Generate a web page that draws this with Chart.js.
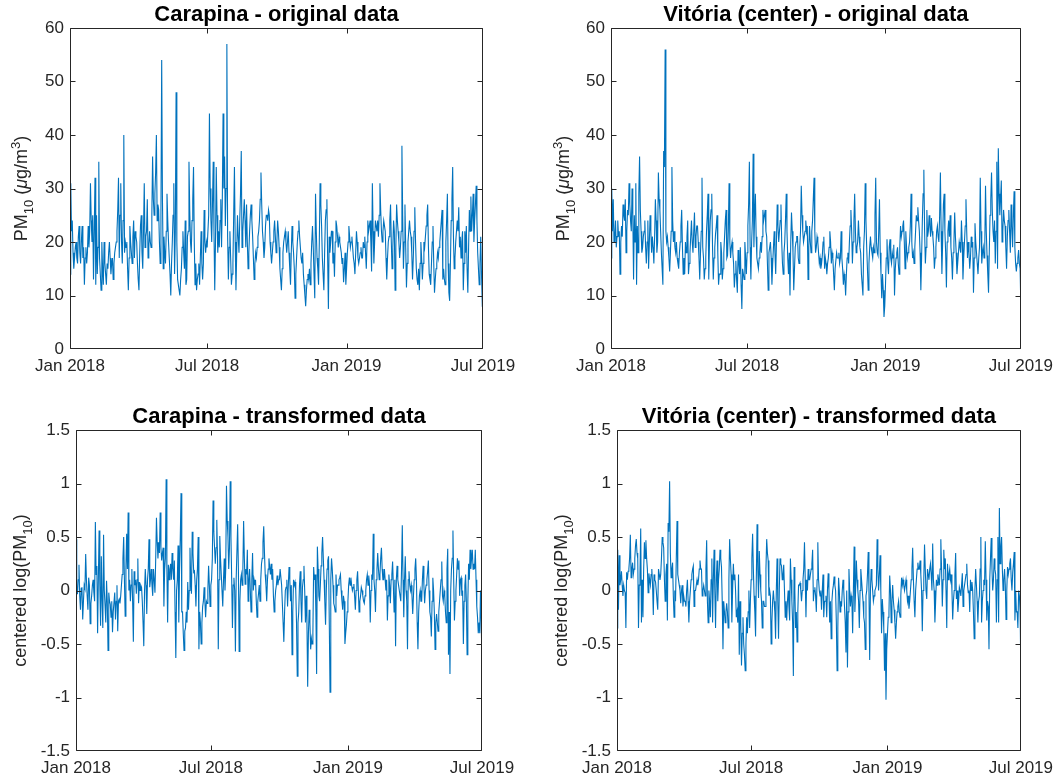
<!DOCTYPE html>
<html><head><meta charset="utf-8">
<script src="https://cdn.jsdelivr.net/npm/chart.js@4/dist/chart.umd.min.js"></script>
<style>
html,body{margin:0;padding:0;background:#fff;}
#wrap{position:relative;width:1060px;height:783px;overflow:hidden;}
canvas{position:absolute;left:0;top:0;}
</style></head><body>
<div id="wrap">
<canvas id="c1" width="1060" height="783"></canvas>
<canvas id="c2" width="1060" height="783"></canvas>
<canvas id="c3" width="1060" height="783"></canvas>
<canvas id="c4" width="1060" height="783"></canvas>
</div>
<script>
// ---- tick positions (days since Jan 1 2018) and labels ----
const tickDays = [0, 181, 365, 545];
const tickLabels = ['Jan 2018', 'Jul 2018', 'Jan 2019', 'Jul 2019'];

const titles = ['Carapina - original data', 'Vitória (center) - original data',
                'Carapina - transformed data', 'Vitória (center) - transformed data'];
const labelOriginal = [{t:'PM'},{t:'10',s:'sub'},{t:' ('},{t:'μ',i:1},{t:'g/m'},{t:'3',s:'sup'},{t:')'}];
const labelTransformed = [{t:'centered log(PM'},{t:'10',s:'sub'},{t:')'}];

// ---- daily series ----
const carapinaOriginal = [
14,31,22,24,18,15,17,19,20,17, 16,21,23,18,16,20,23,17,19,12,
17,19,16,18,23,19,22,31,24,20, 25,13,22,32,12,25,14,19,35,17,
14,11,20,15,12,20,16,14,12,16, 15,18,20,17,14,16,17,13,16,18,
19,20,22,26,32,17,25,31,20,16, 24,40,18,20,19,20,15,11,17,23,
20,18,16,21,24,17,22,21,20,16, 13,11,18,23,25,18,15,22,31,19,
21,22,28,17,19,22,20,19,25,36, 28,25,29,33,40,24,27,26,20,16,
25,54,28,15,21,18,16,22,29,24, 20,17,14,10,16,20,25,31,14,22,
48,20,13,12,11,10,13,15,19,22, 18,15,24,12,13,21,22,35,26,20,
18,24,28,34,20,12,16,11,13,14, 16,12,17,22,16,13,16,26,20,18,
20,19,19,25,44,30,24,20,27,35, 22,11,20,34,25,18,22,19,24,28,
19,28,44,30,36,23,30,57,21,13, 19,22,17,12,14,16,25,34,20,11,
18,25,21,18,24,29,37,19,22,25, 28,24,19,27,20,15,18,22,25,27,
24,21,17,13,16,18,17,19,21,22, 24,28,33,27,22,20,17,19,23,25,
25,24,26,25,20,18,16,18,20,22, 24,21,18,20,24,22,19,15,13,11,
15,18,20,21,22,20,18,20,22,18, 15,12,18,23,20,18,15,9.5,14,17,
20,22,24,21,19,17,16,18,14,12, 10,8,11,13,14,13,15,12,16,20,
23,19,14,9.5,29,22,17,15,12,20, 31,27,23,17,14,11,18,24,26,28,
17,7.5,21,18,20,22,22,16,18,13.5, 20,24,23,21,19,21,20,19,18,16,
17,12.5,15,18,12,15,18,20,23,21, 19,20,21,19,17,16,14,18,22,20,
17,16,17,18,19,17,17,20,19,21, 18,15,20,24,22,23,24,20,14.5,31,
22,16,20,24,23,22,24,21,25,31, 26,22,20,22,24,23,22,17,13,17,
20,21,24,27,20,15,19,24,22,11, 19,27,24,22,20,17,19,22,38,25,
15,20,27,19,11.5,16,20,22,24,22, 21,18,13,17,22,26.5,20,15,13,12,
15,11,16,20,17,13,16,20,19,21, 23,25,27,19,14,13,12,16,20,23,
16,10.5,13,15,16,18,17,19,20,22, 24,26,13,15,13,12,20,24,29,16,
10.5,9,16,24,28,34,21,15,17,20, 22,24,22,26.5,19,21,17,20,22,11,
16,22,18,23,15,10.5,19,26,22,28.5, 22,25,29,20,24,27,30.5,24,18,15,
12,16,21,14,8.5,9];

const vitoriaOriginal = [
17,30,22,28,20,21,24,19,21,24, 21,22,14,20,23,21,27,25,24,28,
18,22,26,25,31,27,24,22,30,25, 13,25,20,31,12,23,18,29,36,26,
22,18,19,21,22,24,19,16,20,24, 15,20,25,22,18,21,19,16,21,28,
24,18,20,33,28,26,22,18,15,12, 37,34,56,22,20,21,19,17,14.5,18,
22,34,24,20,22,19,18,20,17,16, 15,18,20,23,26,19,14,17,14,20,
18,21,24,14,16,18,21,24,20,18, 22,25.5,19,21,23,23,20,17,13,18,
22,32,19,17,13,15,17,22,25,29, 13,20,24,26,29,19,13,17,19,21.5,
23,25,18,12,14,14,20,18,13,15, 18,21,24,26,17,17.5,22,31,20,17,
19,20,18,16,11.5,14,16.5,13,10.5,18.5, 16,14,19,12,7.5,15,14,13,20,17,
14,18,23,27,35,19,13,20,24,36.5, 19,25,29,21,17,16,15,17,18,20,
18,21,26,24,25,26,22,21,16,11, 18,19,20,17,12,16,19,22,18,14,
20,27,23,20,22,24,27,20,16,14, 18,20,24,29,22,17,14,18,10,20,
25.5,22,18,11,15,19,20,21,21,17, 16,19,22,30.5,25,22,20,21,22,24,
22,23,13,19,23,20,18,22,24,28, 32,22,18,19,21,20,18,16,17,15,
16,17.5,20,21,15,17,16,14,16,17, 19,22,20,16,18,17,14,11,15,15,
18,17,17,18,16,17,22,17,15,12, 14,13,10,14,17,18,16,20,23,26,
22,16,20,24,29,22,18,19,20,24, 21,19,18,14,12,10,19,22,31,24,
19,15,11,16,19,21,19,18,17,19, 18,25,32,20,18,17.5,22,28,18,14,
9.5,14,11,6,8,12,17,20.5,16,14, 19,20.5,17,16,18,17,19.5,10,15,17,
18,19,16,14,19,23,21,22,23,24, 20,15,22,19,17,18,19,20,23,29,
20,17,18,16,19,22,25,24,26.5,24, 22,18,11,17,24,29,33.5,22,16,19,
26,21,22,25,23,21,24.5,22,21,19, 15,17,19,22,23,21,20,25,33,22,
14,20,27,29,22,18,11.5,20,22,24, 21,25,19,17,13,18,20,25.5,21,18,
14,16,18,20,19,18,24,20,13,17, 20,23,28,22,17,20,18,15,17,21,
19,20,10.5,17,23.5,20,18,16,14,17, 19,32,22,16,18,19,17,19,30.5,22,
17.5,14,10.5,18,25,28,33,26,22,20, 24,16,22,35,15,37.5,29,25,28,31.5,
20,22,26,24,23,19,15,21,24,26, 22,18,27,23,19,25,29.5,19,16,14.5,
16,17,18.5,16,15,7.5];

const carapinaTransformed = [
0.48,-0.03,-0.03,0.1,0.24,-0.05,-0.18,0.02,0.03,-0.27, -0.1,0.05,0.02,0.34,0.1,-0.05,-0.18,0.12,0.05,-0.31,
-0.12,-0.05,0.05,0.1,-0.02,-0.1,0.64,0.15,0.23,-0.4, 0.1,0.56,0.05,-0.33,0.32,-0.1,-0.35,0.52,0.0,-0.14,
-0.3,0.09,-0.1,-0.56,-0.02,-0.1,-0.13,-0.25,-0.1,-0.39, -0.2,-0.2,-0.02,-0.27,-0.1,0.05,-0.38,-0.1,-0.08,-0.12,
-0.05,0.05,0.15,0.3,0.5,0.1,-0.24,0.2,0.53,0.2, 0.73,0.0,0.1,-0.1,0.05,0.2,-0.1,-0.48,0.18,0.05,
0.1,-0.03,0.1,0.3,-0.12,0.08,0.0,0.05,0.03,-0.1, -0.3,-0.52,0.0,0.2,0.05,-0.22,0.1,0.2,0.48,0.03,
0.1,0.2,0.05,-0.05,0.2,0.1,-0.02,0.3,0.68,0.45, 0.3,0.45,0.35,0.73,0.4,0.28,0.35,0.4,-0.15,0.2,
0.3,1.04,0.2,-0.3,0.24,0.1,0.2,0.25,0.1,0.35, 0.2,0.1,0.28,-0.2,-0.63,0.0,0.1,0.42,-0.3,0.2,
0.5,0.91,-0.2,-0.2,-0.4,-0.56,-0.38,-0.35,-0.2,-0.3, 0.08,-0.18,0.0,0.4,0.1,-0.03,0.55,0.35,0.17,0.18,
0.05,-0.15,0.1,0.2,0.5,-0.55,-0.2,-0.3,-0.5,-0.3, -0.15,-0.1,0.03,-0.1,-0.25,-0.1,-0.12,0.0,0.23,0.05,
-0.15,0.05,0.1,0.3,0.84,0.55,0.4,0.25,0.4,0.66, 0.3,-0.55,0.1,0.51,0.3,0.15,0.0,-0.15,0.1,0.3,
0.0,0.2,0.98,0.65,0.5,0.2,0.4,1.02,0.5,0.1, -0.35,0.05,0.12,0.0,-0.57,0.1,0.1,0.62,0.2,-0.57,
-0.1,0.1,0.15,0.05,0.2,0.65,0.3,0.06,0.2,0.15, 0.38,-0.1,0.1,0.2,0.0,-0.2,0.1,0.35,0.0,0.1,
0.05,0.1,-0.1,-0.25,-0.1,-0.03,0.05,-0.1,0.1,0.25, 0.3,0.45,0.6,0.35,0.15,0.05,-0.1,0.1,0.2,0.3,
0.22,0.15,0.25,0.1,0.2,-0.05,-0.2,-0.1,0.0,0.05, 0.14,0.05,0.1,0.1,0.2,0.2,0.05,-0.12,-0.3,-0.48,
-0.2,0.0,0.03,0.1,-0.15,0.05,0.22,0.1,-0.1,0.05, -0.6,-0.2,0.1,0.05,0.08,0.0,-0.3,-0.8,-0.3,-0.2,
0.05,0.18,-0.1,-0.3,0.03,0.1,0.23,0.0,-0.3,-0.05, -0.3,-0.9,-0.4,-0.18,-0.3,-0.55,-0.45,-0.5,-0.4,0.22,
0.1,0.15,-0.2,-0.78,0.41,0.2,-0.05,-0.1,0.05,0.23, 0.35,0.5,0.3,0.1,-0.1,-0.32,0.0,0.2,0.28,0.32,
-0.3,-0.95,0.1,0.3,0.2,0.05,-0.12,-0.15,-0.2,0.15, -0.05,0.05,0.05,0.1,0.12,0.15,0.0,-0.1,-0.18,-0.05,
-0.1,-0.5,-0.4,-0.32,-0.2,-0.1,0.05,0.12,0.05,0.12, 0.05,0.0,0.03,0.06,-0.05,-0.18,0.0,0.1,0.18,0.0,
-0.2,-0.1,-0.05,0.03,0.0,-0.05,-0.1,-0.12,-0.05,0.0, 0.1,0.15,0.05,0.14,0.05,-0.3,0.0,0.15,0.1,0.53,
0.1,0.0,-0.2,0.1,0.2,0.35,0.2,0.1,0.15,0.3, 0.4,0.2,0.1,0.1,0.2,0.1,0.0,0.1,-0.28,-0.05,
0.15,0.05,-0.12,0.1,0.15,0.27,0.05,-0.2,0.1,-0.52, 0.1,0.23,0.1,0.05,0.0,-0.05,-0.1,0.2,0.61,0.1,
-0.25,0.1,0.32,0.0,-0.1,-0.55,0.1,0.18,0.05,0.0, 0.05,-0.05,-0.22,-0.05,0.1,0.2,0.3,0.1,-0.3,-0.55,
-0.2,-0.05,0.0,-0.1,-0.1,0.1,0.23,0.05,-0.12,0.0, 0.05,0.1,0.18,0.28,0.0,-0.2,-0.25,-0.43,-0.1,0.12,
0.0,-0.2,-0.55,-0.3,-0.22,-0.3,-0.38,-0.2,-0.1,0.0, 0.1,0.27,-0.05,-0.1,0.0,-0.05,-0.2,-0.3,0.2,0.39,
-0.6,-0.2,-0.78,0.0,0.2,0.3,0.56,0.1,-0.28,-0.1, 0.0,0.15,0.3,0.2,0.28,-0.05,0.1,0.12,-0.05,0.0,
-0.5,-0.1,0.05,0.15,-0.1,-0.6,-0.1,0.25,0.1,0.38, 0.2,0.3,0.38,0.2,0.25,0.2,0.38,0.1,-0.15,-0.25,
-0.4,-0.3,-0.4,0.0,-0.3,-0.7];

const vitoriaTransformed = [
-0.35,0.38,-0.18,0.33,0.05,0.1,0.18,0.05,-0.05,0.05, 0.0,-0.02,-0.35,0.17,0.1,0.18,0.2,0.3,0.52,0.12,
0.2,0.26,0.15,0.2,0.3,0.42,0.48,0.35,0.3,-0.35, 0.05,0.15,0.58,-0.3,0.1,-0.25,0.2,0.45,0.3,0.47,
0.3,0.2,-0.02,0.16,0.1,0.05,0.15,0.2,0.05,-0.23, 0.15,0.1,0.08,0.0,-0.1,-0.18,0.2,0.15,0.1,0.15,
0.3,0.5,0.45,0.4,0.1,-0.1,0.15,0.25,-0.28,0.63, 0.55,1.02,0.35,0.12,0.2,0.26,-0.05,-0.25,0.0,-0.1,
0.3,0.65,0.15,0.1,0.05,0.0,-0.12,0.0,0.05,-0.15, -0.05,-0.1,-0.1,-0.15,0.0,0.1,-0.1,-0.3,-0.1,0.0,
0.1,0.15,0.2,0.23,-0.15,0.0,0.0,0.05,0.1,0.05, 0.1,0.2,0.28,0.2,0.2,-0.05,0.0,0.05,0.0,-0.05,
0.2,0.47,-0.1,-0.3,0.0,-0.1,-0.25,0.1,0.3,-0.3, 0.1,0.38,0.0,-0.35,0.1,0.28,-0.1,0.1,0.2,0.38,
0.3,0.22,-0.1,-0.55,-0.1,-0.2,-0.3,-0.2,-0.12,-0.2, -0.35,0.1,0.48,0.3,0.15,-0.3,0.0,0.25,0.1,0.15,
0.0,-0.25,-0.2,-0.3,0.15,-0.6,-0.1,-0.3,-0.7,-0.4, -0.25,-0.5,-0.6,-0.75,-0.5,-0.25,-0.4,-0.2,0.0,-0.35,
-0.1,0.1,0.3,0.53,0.2,-0.05,-0.2,-0.43,0.1,0.62, 0.2,-0.07,0.37,0.15,0.0,-0.1,-0.35,-0.1,-0.1,-0.15,
-0.15,0.2,0.48,0.35,0.28,-0.05,0.0,-0.05,-0.5,-0.3, -0.1,0.0,-0.1,-0.2,-0.45,0.0,0.3,-0.1,-0.45,0.0,
0.3,0.25,0.23,0.1,0.15,0.24,0.0,-0.25,-0.1,-0.28, -0.1,0.0,-0.15,-0.28,0.3,0.1,-0.1,-0.3,-0.8,0.22,
0.0,-0.35,-0.2,-0.48,-0.2,0.05,0.05,0.07,0.0,-0.1, 0.0,0.1,0.2,0.45,0.1,-0.25,0.1,0.0,0.2,0.1,
0.1,0.15,0.2,0.25,0.38,-0.1,0.0,0.03,-0.05,-0.2, 0.1,0.45,0.1,0.0,-0.05,0.0,-0.18,0.0,0.15,-0.25,
-0.1,-0.1,-0.05,-0.25,0.0,0.16,0.0,-0.3,-0.1,-0.45, -0.1,0.0,0.05,0.13,0.05,0.0,-0.3,-0.75,-0.35,0.12,
0.0,-0.2,-0.1,-0.15,0.0,0.1,0.0,-0.15,-0.3,-0.58, 0.0,-0.72,-0.2,0.2,0.0,-0.15,-0.05,-0.1,-0.4,0.0,
0.41,-0.2,0.0,0.28,0.1,0.0,-0.1,-0.35,0.0,0.2, 0.1,0.0,-0.1,-0.25,-0.3,-0.55,-0.05,0.0,0.15,0.36,
0.0,-0.65,0.0,0.2,0.1,0.0,-0.1,-0.05,0.0,0.02, 0.05,0.48,0.2,0.0,0.15,0.33,0.0,-0.4,-0.08,-0.2,
-0.35,-0.75,-0.4,-1.02,-0.55,-0.4,-0.25,-0.2,0.14,0.0, -0.3,-0.1,0.05,-0.1,-0.18,-0.3,-0.45,-0.3,-0.2,-0.15,
-0.1,-0.2,-0.25,-0.05,0.12,0.05,0.1,0.05,0.0,0.05, 0.1,0.0,-0.1,-0.05,-0.17,-0.1,0.0,0.1,0.2,0.4,
0.1,-0.1,-0.25,0.0,0.1,0.2,0.26,0.2,0.2,0.28, 0.15,0.0,-0.38,0.0,0.1,0.43,0.2,0.0,-0.08,0.2,
0.15,0.1,0.2,0.25,0.15,0.0,0.44,0.1,0.0,-0.3, -0.1,0.1,0.05,0.15,0.1,0.05,0.2,0.48,0.2,-0.15,
0.1,0.38,0.2,0.3,0.0,-0.35,0.25,0.1,0.15,0.2, 0.1,0.15,0.0,-0.27,-0.1,0.0,0.15,0.35,-0.08,0.0,
-0.2,-0.1,0.03,0.0,-0.05,0.05,0.16,-0.15,0.0,0.05, 0.1,0.15,0.25,0.05,-0.02,0.0,-0.2,0.1,0.0,0.08,
0.0,-0.2,-0.45,0.0,0.2,0.05,-0.1,-0.3,-0.1,-0.05, 0.2,0.5,-0.3,-0.1,0.0,0.1,0.05,0.46,0.1,-0.28,
-0.1,-0.15,-0.55,0.1,0.3,0.49,0.2,0.0,0.1,0.3, 0.2,0.15,-0.3,0.1,0.5,-0.3,0.77,0.25,0.4,0.5,
0.2,0.0,0.1,0.2,0.05,-0.27,0.0,0.22,0.15,0.2, 0.25,0.3,0.1,0.0,0.17,0.25,0.36,-0.28,0.0,-0.2,
-0.2,-0.35,0.0,-0.05,-0.2,-0.78];

// ---------------------------------------------------------------
const FONT = "'Liberation Sans', Arial, Helvetica, sans-serif";
const TXT = '#262626';
const LINE = '#0072BD';
const TICK_FS = 17, TITLE_FS = 22, LABEL_FS = 18;
const W = 1060, H = 783, YW = 45, XH = 34;

function drawRichLabel(ctx, pieces, cx, cy) {
  ctx.save();
  ctx.translate(cx, cy);
  ctx.rotate(-Math.PI / 2);
  ctx.fillStyle = TXT;
  ctx.textBaseline = 'alphabetic';
  ctx.textAlign = 'left';
  let total = 0;
  const parts = pieces.map(p => {
    const size = p.s ? LABEL_FS * 0.72 : LABEL_FS;
    const font = (p.i ? 'italic ' : '') + size + 'px ' + FONT;
    ctx.font = font;
    const w = ctx.measureText(p.t).width;
    total += w;
    return Object.assign({}, p, {font, w});
  });
  let x = -total / 2;
  const base = LABEL_FS * 0.36;
  parts.forEach(p => {
    ctx.font = p.font;
    let dy = base;
    if (p.s === 'sub') dy += LABEL_FS * 0.28;
    if (p.s === 'sup') dy -= LABEL_FS * 0.42;
    ctx.fillText(p.t, x, dy);
    x += p.w;
  });
  ctx.restore();
}

const framePlugin = {
  id: 'frame',
  afterDraw(chart, args, opts) {
    const {ctx, chartArea: a, scales: {x, y}} = chart;
    ctx.save();
    ctx.strokeStyle = TXT;
    ctx.lineWidth = 1;
    const L = Math.round(a.left) + 0.5, R = Math.round(a.right) - 0.5;
    const T = Math.round(a.top) + 0.5, B = Math.round(a.bottom) - 0.5;
    const clamp = (v, lo, hi) => Math.min(hi, Math.max(lo, v));
    ctx.beginPath();
    ctx.rect(L, T, R - L, B - T);
    const tl = 5;
    x.ticks.forEach(t => {
      const px = clamp(Math.round(x.getPixelForValue(t.value)) + 0.5, L, R);
      ctx.moveTo(px, B); ctx.lineTo(px, B - tl);
      ctx.moveTo(px, T); ctx.lineTo(px, T + tl);
    });
    y.ticks.forEach(t => {
      const py = clamp(Math.round(y.getPixelForValue(t.value)) + 0.5, T, B);
      ctx.moveTo(L, py); ctx.lineTo(L + tl, py);
      ctx.moveTo(R, py); ctx.lineTo(R - tl, py);
    });
    ctx.stroke();
    ctx.restore();
    drawRichLabel(ctx, opts.label, opts.labelX, (a.top + a.bottom) / 2);
  }
};

function makeChart(id, values, area, yMin, yMax, yStep, title, label, labelX) {
  const titleCenter = area.t - 13.5;
  const titleTop = titleCenter - 0.6 * TITLE_FS;
  const titlePadB = area.t - titleTop - 1.2 * TITLE_FS;
  const labels = values.map((v, i) => i);
  return new Chart(document.getElementById(id), {
    type: 'line',
    data: {
      labels,
      datasets: [{
        data: values,
        borderColor: LINE,
        borderWidth: 1.1,
        pointRadius: 0,
        tension: 0,
        fill: false
      }]
    },
    options: {
      responsive: false,
      animation: false,
      events: [],
      layout: {
        padding: {
          left: area.l - YW,
          right: W - area.r,
          top: titleTop,
          bottom: H - area.b - XH
        }
      },
      plugins: {
        legend: {display: false},
        tooltip: {enabled: false},
        title: {
          display: true,
          text: title,
          fullSize: false,
          color: '#000',
          font: {family: FONT, size: TITLE_FS, weight: 'bold'},
          padding: {top: 0, bottom: titlePadB}
        },
        frame: {label, labelX}
      },
      scales: {
        x: {
          type: 'linear',
          min: 0, max: tickDays[tickDays.length - 1],
          grid: {display: false, drawTicks: false},
          border: {display: false},
          afterBuildTicks: s => { s.ticks = tickDays.map(v => ({value: v})); },
          afterFit: s => { s.height = XH; },
          ticks: {
            autoSkip: false, maxRotation: 0, padding: 7,
            color: TXT, font: {family: FONT, size: TICK_FS},
            callback: (v, i) => tickLabels[i]
          }
        },
        y: {
          type: 'linear',
          min: yMin, max: yMax,
          grid: {display: false, drawTicks: false},
          border: {display: false},
          afterFit: s => { s.width = YW; },
          ticks: {
            stepSize: yStep, padding: 6,
            color: TXT, font: {family: FONT, size: TICK_FS},
            callback: v => String(Math.round(v * 10) / 10)
          }
        }
      }
    },
    plugins: [framePlugin]
  });
}

makeChart('c1', carapinaOriginal, {l: 70, r: 483, t: 28, b: 349}, 0, 60, 10, titles[0], labelOriginal, 21);
makeChart('c2', vitoriaOriginal, {l: 611, r: 1023, t: 28, b: 349}, 0, 60, 10, titles[1], labelOriginal, 563);
makeChart('c3', carapinaTransformed, {l: 76, r: 482, t: 430, b: 751}, -1.5, 1.5, 0.5, titles[2], labelTransformed, 20);
makeChart('c4', vitoriaTransformed, {l: 617, r: 1023, t: 430, b: 751}, -1.5, 1.5, 0.5, titles[3], labelTransformed, 561);
</script>
</body></html>
